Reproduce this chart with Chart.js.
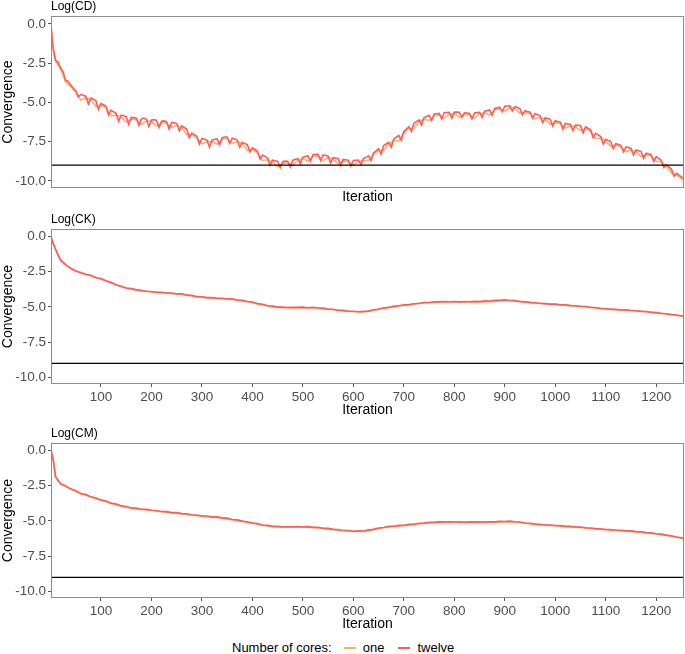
<!DOCTYPE html>
<html>
<head>
<meta charset="utf-8">
<script src="https://cdn.jsdelivr.net/npm/chart.js@4"></script>
<style>
  body { margin: 0; background: #fff; width: 685px; height: 654px; position: relative; overflow: hidden;
         font-family: "Liberation Sans", Arial, sans-serif; }
  canvas { position: absolute; left: 0; }
  #legend { position: absolute; left: 232px; top: 640px; height: 16px; font-size: 13px; line-height: 16px;
            color: #000; display: flex; align-items: center; white-space: nowrap; }
  #legend .key { display: inline-block; width: 12px; height: 2px; margin: 0 7px 0 12px; }
  #legend .name { margin-right: 2px; }
</style>
</head>
<body>
<canvas id="cd" width="685" height="206" style="top:0px"></canvas>
<canvas id="ck" width="685" height="206" style="top:213px"></canvas>
<canvas id="cm" width="685" height="206" style="top:427px"></canvas>
<div id="legend"></div>
<script>
// series names and colours
const seriesNames = ["one", "twelve"];
const seriesColors = ["#F6B26B", "#FF5B5B"];
const threshold = -9;

// iterations where the curves were read
const itersFine = [1,3,5,10,15,20,25,30,35,40,45,50,55,60,65,70,75,80,85,90,95,100,
  105,110,115,120,125,130,135,140,145,150,155,160,165,170,175,180,185,190,195,200,
  205,210,215,220,225,230,235,240,245,250,255,260,265,270,275,280,285,290,295,300,
  305,310,315,320,325,330,335,340,345,350,355,360,365,370,375,380,385,390,395,400,
  405,410,415,420,425,430,435,440,445,450,455,460,465,470,475,480,485,490,495,500,
  505,510,515,520,525,530,535,540,545,550,555,560,565,570,575,580,585,590,595,600,
  605,610,615,620,625,630,635,640,645,650,655,660,665,670,675,680,685,690,695,700,
  705,710,715,720,725,730,735,740,745,750,755,760,765,770,775,780,785,790,795,800,
  805,810,815,820,825,830,835,840,845,850,855,860,865,870,875,880,885,890,895,900,
  905,910,915,920,925,930,935,940,945,950,955,960,965,970,975,980,985,990,995,1000,
  1005,1010,1015,1020,1025,1030,1035,1040,1045,1050,1055,1060,1065,1070,1075,1080,1085,1090,1095,1100,
  1105,1110,1115,1120,1125,1130,1135,1140,1145,1150,1155,1160,1165,1170,1175,1180,1185,1190,1195,1200,
  1205,1210,1215,1220,1225,1230,1235,1240,1245,1250,1255];
const itersDense = [1,3,6,10,20,30,40,50,60,70,80,90,100,110,120,130,140,150,160,170,180,190,200,
  210,220,230,240,250,260,270,280,290,300,310,320,330,340,350,360,370,380,390,400,
  410,420,430,440,450,460,470,480,490,500,510,520,530,540,550,560,570,580,590,600,
  610,620,630,640,650,660,670,680,690,700,710,720,730,740,750,760,770,780,790,800,
  810,820,830,840,850,860,870,880,890,900,910,920,930,940,950,960,970,980,990,1000,
  1010,1020,1030,1040,1050,1060,1070,1080,1090,1100,1110,1120,1130,1140,1150,1160,1170,1180,1190,1200,
  1210,1220,1230,1240,1250,1255];
const itersSparse = [1,5,10,20,40,60,80,100,120,140,160,180,200,220,240,260,280,300,320,340,360,380,400,
  420,440,460,480,500,520,540,560,580,600,620,640,660,680,700,720,740,760,780,800,
  820,840,860,880,900,920,940,960,980,1000,1020,1040,1060,1080,1100,1120,1140,1160,1180,1200,
  1220,1240,1255];

// Log(CD), twelve cores (itersFine)
const cdTwelve = [0.0,-0.9,-1.5,
  -2.3,-2.45,-2.8,-3.05,-3.6,-3.65,-3.9,-4.1,-4.25,-4.65,-4.5,-4.55,-4.62,-5.1,-4.72,-4.8,-4.9,-5.45,-5.07,
  -5.15,-5.25,-5.8,-5.5,-5.6,-5.7,-6.2,-5.82,-5.85,-5.9,-6.4,-5.95,-5.97,-6.0,-6.45,-6.05,-6.0,-6.08,-6.55,-6.12,
  -6.1,-6.15,-6.6,-6.2,-6.18,-6.23,-6.7,-6.27,-6.3,-6.35,-6.8,-6.5,-6.6,-6.7,-7.25,-6.95,-7.05,-7.15,-7.65,-7.3,
  -7.35,-7.4,-7.85,-7.4,-7.36,-7.33,-7.7,-7.25,-7.2,-7.2,-7.6,-7.28,-7.33,-7.4,-7.85,-7.55,-7.62,-7.7,-8.15,-7.9,
  -8.0,-8.1,-8.6,-8.35,-8.45,-8.55,-9.0,-8.68,-8.72,-8.75,-9.15,-8.77,-8.74,-8.75,-9.1,-8.68,-8.62,-8.58,-8.9,-8.48,
  -8.44,-8.4,-8.75,-8.33,-8.3,-8.3,-8.7,-8.35,-8.38,-8.42,-8.85,-8.5,-8.55,-8.58,-9.0,-8.63,-8.65,-8.68,-9.05,-8.7,
  -8.68,-8.67,-8.95,-8.58,-8.5,-8.4,-8.7,-8.2,-8.08,-7.95,-8.3,-7.75,-7.65,-7.55,-7.85,-7.33,-7.22,-7.1,-7.4,-6.85,
  -6.7,-6.55,-6.85,-6.33,-6.22,-6.12,-6.45,-5.97,-5.9,-5.82,-6.15,-5.74,-5.72,-5.7,-6.05,-5.66,-5.64,-5.63,-6.0,-5.62,
  -5.62,-5.63,-5.95,-5.66,-5.68,-5.7,-6.05,-5.67,-5.65,-5.63,-5.95,-5.56,-5.52,-5.48,-5.8,-5.38,-5.34,-5.3,-5.6,-5.25,
  -5.23,-5.22,-5.55,-5.28,-5.33,-5.4,-5.8,-5.53,-5.58,-5.62,-6.0,-5.71,-5.78,-5.85,-6.3,-5.97,-6.02,-6.08,-6.5,-6.17,
  -6.21,-6.26,-6.7,-6.34,-6.37,-6.4,-6.8,-6.44,-6.46,-6.49,-6.95,-6.56,-6.65,-6.75,-7.25,-6.97,-7.07,-7.17,-7.65,-7.35,
  -7.42,-7.5,-7.95,-7.63,-7.68,-7.73,-8.15,-7.83,-7.88,-7.93,-8.35,-8.03,-8.08,-8.13,-8.55,-8.23,-8.28,-8.33,-8.75,-8.45,
  -8.57,-8.7,-9.15,-8.97,-9.1,-9.24,-9.7,-9.52,-9.63,-9.75,-9.85];
// Log(CD), one core (itersDense)
const cdOne = [0.0,-0.95,-1.8,-2.4,-2.9,-3.7,-4.0,-4.35,-4.85,-4.72,-4.82,-5.25,-5.17,-5.35,-5.85,-5.8,-5.92,-6.25,-6.05,-6.1,
  -6.4,-6.18,-6.22,-6.5,-6.3,-6.33,-6.6,-6.45,-6.6,-7.05,-7.05,-7.25,-7.65,-7.5,-7.5,-7.65,-7.35,-7.3,-7.6,-7.5,
  -7.65,-8.05,-8.0,-8.2,-8.7,-8.65,-8.78,-9.1,-8.87,-8.85,-9.0,-8.68,-8.58,-8.75,-8.43,-8.4,-8.7,-8.52,-8.6,-8.9,
  -8.73,-8.78,-9.0,-8.77,-8.68,-8.7,-8.3,-8.05,-8.05,-7.65,-7.43,-7.45,-6.95,-6.65,-6.65,-6.22,-6.07,-6.15,-5.84,-5.8,
  -6.0,-5.73,-5.72,-5.95,-5.76,-5.8,-6.0,-5.73,-5.66,-5.8,-5.48,-5.4,-5.55,-5.32,-5.38,-5.7,-5.63,-5.72,-6.05,-5.95,
  -6.07,-6.4,-6.27,-6.36,-6.65,-6.5,-6.54,-6.8,-6.66,-6.85,-7.3,-7.27,-7.45,-7.8,-7.73,-7.83,-8.15,-8.03,-8.13,-8.45,
  -8.33,-8.43,-8.75,-8.8,-9.07,-9.5,-9.62,-9.85,-9.95];

// Log(CK)
const ckTwelve = [0.0,-0.3,-0.58,-0.92,-1.7,-2.02,-2.27,-2.47,-2.58,-2.7,-2.77,-2.94,-3.0,-3.16,-3.27,-3.44,-3.54,-3.67,-3.71,-3.8,
  -3.83,-3.9,-3.91,-3.97,-3.97,-4.02,-4.02,-4.08,-4.08,-4.17,-4.19,-4.28,-4.29,-4.35,-4.35,-4.4,-4.39,-4.45,-4.44,-4.52,
  -4.54,-4.62,-4.66,-4.77,-4.82,-4.92,-4.95,-5.02,-5.02,-5.05,-5.03,-5.04,-5.02,-5.06,-5.03,-5.08,-5.09,-5.16,-5.17,-5.24,
  -5.25,-5.31,-5.31,-5.35,-5.32,-5.3,-5.21,-5.17,-5.07,-5.04,-4.95,-4.92,-4.86,-4.84,-4.78,-4.75,-4.69,-4.69,-4.65,-4.65,
  -4.62,-4.64,-4.62,-4.65,-4.62,-4.64,-4.61,-4.63,-4.58,-4.59,-4.54,-4.53,-4.51,-4.55,-4.56,-4.64,-4.65,-4.7,-4.71,-4.76,
  -4.77,-4.81,-4.81,-4.86,-4.86,-4.91,-4.92,-4.97,-4.98,-5.04,-5.06,-5.12,-5.13,-5.18,-5.18,-5.22,-5.21,-5.26,-5.27,-5.32,
  -5.33,-5.39,-5.41,-5.47,-5.49,-5.55,-5.58,-5.63,-5.66];
const ckOne = [0.0,-0.5,-0.95,-1.74,-2.31,-2.63,-2.8,-3.05,-3.31,-3.58,-3.75,-3.87,-3.95,-4.01,-4.06,-4.12,-4.23,-4.33,-4.39,-4.43,
  -4.48,-4.58,-4.7,-4.86,-4.99,-5.06,-5.07,-5.06,-5.07,-5.13,-5.21,-5.29,-5.35,-5.36,-5.25,-5.11,-4.99,-4.9,-4.82,-4.73,
  -4.69,-4.66,-4.66,-4.66,-4.66,-4.65,-4.61,-4.57,-4.56,-4.65,-4.72,-4.78,-4.83,-4.88,-4.93,-4.99,-5.06,-5.14,-5.2,-5.24,
  -5.28,-5.34,-5.41,-5.49,-5.59,-5.69];

// Log(CM)
const cmTwelve = [0.0,-0.3,-0.82,-1.88,-2.37,-2.53,-2.74,-2.88,-3.07,-3.14,-3.3,-3.38,-3.52,-3.6,-3.75,-3.81,-3.94,-3.98,-4.09,-4.1,
  -4.18,-4.19,-4.25,-4.27,-4.34,-4.35,-4.42,-4.42,-4.49,-4.5,-4.57,-4.59,-4.66,-4.66,-4.72,-4.72,-4.79,-4.81,-4.9,-4.93,
  -5.02,-5.06,-5.15,-5.19,-5.29,-5.32,-5.39,-5.39,-5.43,-5.4,-5.43,-5.4,-5.43,-5.41,-5.46,-5.45,-5.52,-5.53,-5.6,-5.61,
  -5.68,-5.68,-5.73,-5.71,-5.72,-5.64,-5.6,-5.5,-5.47,-5.39,-5.38,-5.32,-5.31,-5.25,-5.24,-5.17,-5.16,-5.1,-5.1,-5.07,
  -5.09,-5.06,-5.08,-5.07,-5.1,-5.07,-5.09,-5.07,-5.08,-5.06,-5.07,-5.04,-5.05,-5.02,-5.06,-5.08,-5.15,-5.17,-5.23,-5.24,
  -5.29,-5.29,-5.33,-5.34,-5.39,-5.39,-5.43,-5.44,-5.49,-5.5,-5.55,-5.56,-5.61,-5.62,-5.66,-5.67,-5.71,-5.71,-5.76,-5.77,
  -5.83,-5.85,-5.91,-5.94,-6.01,-6.05,-6.14,-6.19,-6.24];
const cmOne = [0.0,-0.62,-1.92,-2.4,-2.76,-3.09,-3.32,-3.54,-3.77,-3.96,-4.1,-4.2,-4.27,-4.36,-4.44,-4.51,-4.59,-4.68,-4.74,-4.81,
  -4.92,-5.04,-5.17,-5.31,-5.41,-5.44,-5.44,-5.44,-5.47,-5.54,-5.62,-5.7,-5.75,-5.74,-5.62,-5.49,-5.4,-5.34,-5.26,-5.18,
  -5.13,-5.1,-5.1,-5.11,-5.11,-5.1,-5.09,-5.07,-5.08,-5.17,-5.25,-5.31,-5.35,-5.41,-5.45,-5.51,-5.57,-5.63,-5.68,-5.73,
  -5.78,-5.85,-5.93,-6.03,-6.16,-6.27];

Chart.defaults.font.family = '"Liberation Sans", Arial, sans-serif';

// grey box round the panel and the small title above it
const panelFrame = {
  id: 'panelFrame',
  afterDraw(chart, args, opts) {
    const { ctx, chartArea: a } = chart;
    ctx.save();
    ctx.strokeStyle = '#8C8C8C';
    ctx.lineWidth = 1;
    ctx.strokeRect(a.left + 0.5, a.top + 0.5, a.right - a.left - 1, a.bottom - a.top - 1);
    ctx.fillStyle = '#000';
    ctx.font = '12px "Liberation Sans", Arial, sans-serif';
    ctx.textBaseline = 'bottom';
    ctx.fillText(opts.text, a.left, a.top - 3);
    ctx.restore();
  }
};

function toPoints(xs, ys) {
  return ys.map((y, i) => ({ x: xs[i], y: y }));
}

function makePanel(id, title, one, twelve, showTicks, axisHeight) {
  new Chart(document.getElementById(id), {
    type: 'line',
    data: {
      datasets: [
        { label: 'threshold', data: [{ x: 1, y: threshold }, { x: 1255, y: threshold }],
          borderColor: '#000', borderWidth: 1.2, pointRadius: 0, order: 0 },
        { label: seriesNames[1], data: toPoints(twelve.x, twelve.y),
          borderColor: seriesColors[1], borderWidth: 1.6, pointRadius: 0, order: 1 },
        { label: seriesNames[0], data: toPoints(one.x, one.y),
          borderColor: seriesColors[0], borderWidth: 1.6, pointRadius: 0, order: 2 }
      ]
    },
    options: {
      responsive: false,
      animation: false,
      devicePixelRatio: 1,
      layout: { padding: { top: 16, right: 1, left: 0, bottom: 0 } },
      plugins: {
        legend: { display: false },
        tooltip: { enabled: false },
        panelFrame: { text: title }
      },
      scales: {
        x: {
          type: 'linear', min: 1, max: 1255,
          afterFit: s => { s.height = axisHeight; },
          ticks: { display: showTicks, stepSize: 100, includeBounds: false, autoSkip: false, maxRotation: 0,
                   maxTicksLimit: 20, color: '#4D4D4D', font: { size: 13.5 }, padding: 2,
                   callback: v => String(v) },
          grid: { drawOnChartArea: false, drawTicks: showTicks, tickLength: 3, color: '#555' },
          border: { display: false },
          title: { display: true, text: 'Iteration', color: '#000', font: { size: 14 }, padding: 0 }
        },
        y: {
          min: -10.45, max: 0.5,
          afterFit: s => { s.width = 51; },
          ticks: { stepSize: 2.5, includeBounds: false, color: '#4D4D4D', font: { size: 13.5 }, padding: 2,
                   callback: v => v.toFixed(1) },
          grid: { drawOnChartArea: false, tickLength: 3, color: '#555' },
          border: { display: false },
          title: { display: true, text: 'Convergence', color: '#000', font: { size: 14 }, padding: { top: 0, bottom: 0 } }
        }
      }
    },
    plugins: [panelFrame]
  });
}

makePanel('cd', 'Log(CD)', { x: itersDense, y: cdOne }, { x: itersFine, y: cdTwelve }, false, 18);
makePanel('ck', 'Log(CK)', { x: itersSparse, y: ckOne }, { x: itersDense, y: ckTwelve }, true, 35);
makePanel('cm', 'Log(CM)', { x: itersSparse, y: cmOne }, { x: itersDense, y: cmTwelve }, true, 35);

// legend
const legend = document.getElementById('legend');
legend.innerHTML = '<span>Number of cores:</span>' + seriesNames.map((n, i) =>
  `<span class="key" style="background:${seriesColors[i]}"></span><span class="name">${n}</span>`).join('');
</script>
</body>
</html>
